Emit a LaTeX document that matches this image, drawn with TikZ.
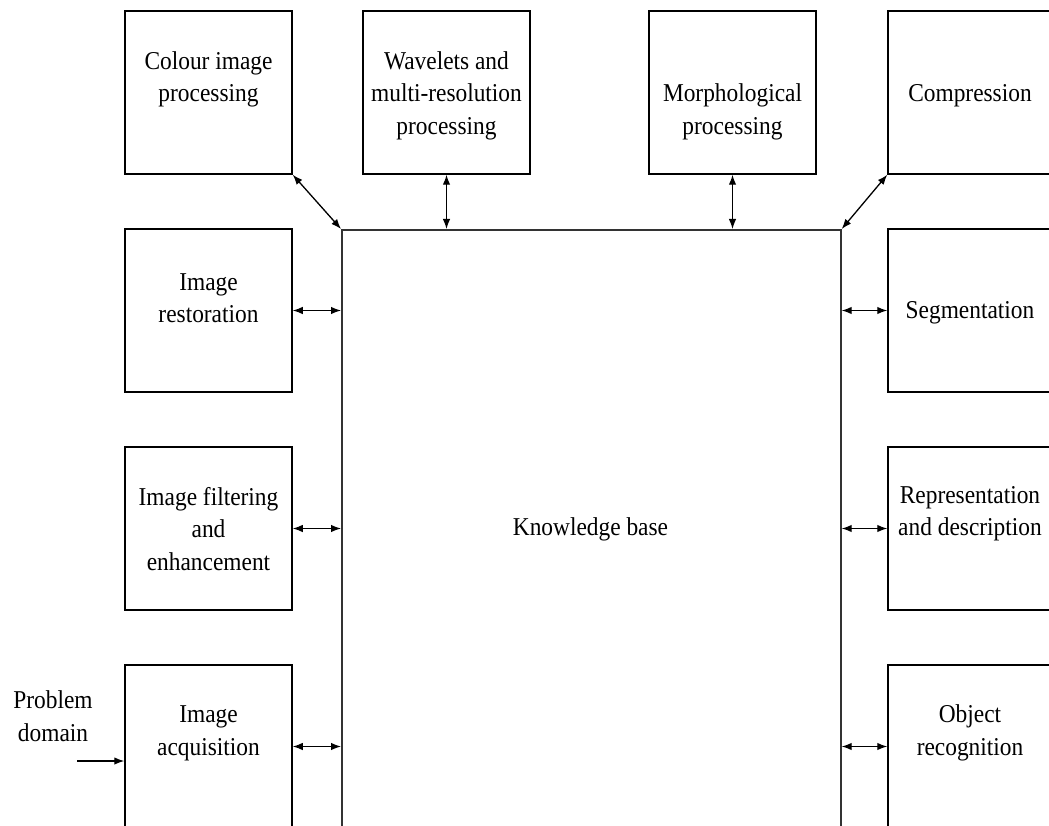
\documentclass[tikz,border=0pt]{standalone}
\usepackage{fontspec}
\setmainfont[FakeStretch=0.91]{Liberation Serif}
\usetikzlibrary{arrows.meta}
\tikzset{
  box/.style={draw=black, line width=1.5pt, minimum width=167pt, minimum height=163pt, inner sep=0pt},
  kbbox/.style={draw=black!80, line width=1.7pt, minimum width=499pt, minimum height=700pt, inner sep=0pt},
  txt/.style={align=center, font=\fontsize{25.7}{32.5}\selectfont, inner sep=0pt},
  dbl/.style={{Latex[length=10pt,width=7.5pt]}-{Latex[length=10pt,width=7.5pt]}, line width=1.3pt},
  sgl/.style={-{Latex[length=10pt,width=7.5pt]}, line width=1.3pt}
}
\begin{document}
\begin{tikzpicture}[x=1pt,y=-1pt]
\useasboundingbox (0,0) rectangle (1049,826);
\clip (0,0) rectangle (1049,826);

% knowledge base
\node[kbbox, anchor=north west] (kb) at (341,229) {};
\node[txt] (kbt) at (590.5,529) {Knowledge base};

% top row
\node[box] (col) at (208.5,92.5) {};
\node[txt] (colt) at (208.5,79.5) {Colour image\\processing};
\node[box] (wav) at (446.5,92.5) {};
\node[txt] (wavt) at (446.5,95.5) {Wavelets and\\multi-resolution\\processing};
\node[box] (mor) at (732.5,92.5) {};
\node[txt] (mort) at (732.5,112) {Morphological\\processing};
\node[box] (com) at (971.5,92.5) {};
\node[txt] (comt) at (970,96) {Compression};

% left column
\node[box] (res) at (208.5,310.5) {};
\node[txt] (rest) at (208.5,298) {Image\\restoration};
\node[box] (fil) at (208.5,528.5) {};
\node[txt] (filt) at (208.5,529) {Image filtering\\and\\enhancement};
\node[box] (acq) at (208.5,746.5) {};
\node[txt] (acqt) at (208.5,733.5) {Image\\acquisition};

% right column
\node[box] (seg) at (971.5,310.5) {};
\node[txt] (segt) at (970,313) {Segmentation};
\node[box] (rep) at (971.5,528.5) {};
\node[txt] (rept) at (970,513.5) {Representation\\and description};
\node[box] (obj) at (971.5,746.5) {};
\node[txt] (objt) at (970,733) {Object\\recognition};

% problem domain input
\node[txt] (pd) at (53,716) {Problem\\domain};
\coordinate (pin) at (77,761);

% connectors
\draw[dbl] (col.south east) -- (kb.north west);
\draw[dbl] (kb.north east) -- (com.south west);
\draw[dbl] (wav.south) -- (wav.south |- kb.north);
\draw[dbl] (mor.south) -- (mor.south |- kb.north);
\draw[dbl] (res.east) -- (res.east -| kb.west);
\draw[dbl] (fil.east) -- (fil.east -| kb.west);
\draw[dbl] (acq.east) -- (acq.east -| kb.west);
\draw[dbl] (seg.west) -- (seg.west -| kb.east);
\draw[dbl] (rep.west) -- (rep.west -| kb.east);
\draw[dbl] (obj.west) -- (obj.west -| kb.east);
\draw[sgl] (pin) -- (pin -| acq.west);
\end{tikzpicture}
\end{document}
